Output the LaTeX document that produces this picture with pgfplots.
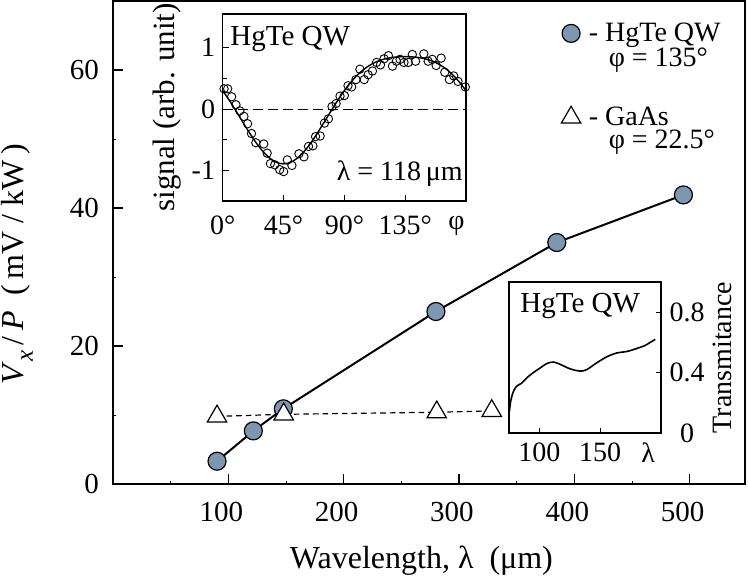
\documentclass[border=0pt]{standalone}
\usepackage{fontspec}
\setmainfont{Liberation Serif}
\usepackage{pgfplots}
\pgfplotsset{compat=1.18}
\definecolor{hgfill}{RGB}{125,150,178}
\newcommand{\fsz}[1]{\fontsize{#1}{#1}\selectfont}
\begin{document}
\begin{tikzpicture}
\path[use as bounding box] (-56.5bp,-46bp) rectangle (317.5bp,242bp);
% ---------------- main axis ----------------
\begin{axis}[
  at={(0,0)}, anchor=south west,
  scale only axis, width=316bp, height=241.5bp,
  xmin=0, xmax=548, ymin=0, ymax=70,
  axis line style={line width=1bp},
  tick align=inside, xtick pos=bottom, ytick pos=left,
  xtick={100,200,300,400,500}, xticklabels={100,200,300,400,500},
  ytick={0,20,40,60}, yticklabels={0,20,40,60},
  minor xtick={50,150,250,350,450}, minor ytick={10,30,50},
  major tick length=5bp, minor tick length=1.5bp,
  tick style={black, line width=0.8bp},
  minor tick style={line width=0.4bp},
  /pgf/number format/assume math mode=true,
  tick label style={font=\fsz{14.5bp}},
  xticklabel style={yshift=-5.5bp, xshift=-3.5bp},
  yticklabel style={xshift=-3.5bp},
  label style={font=\fsz{16bp}},
  xlabel={Wavelength, λ\ \ (μm)},
  xlabel style={at={(axis description cs:0.488,-0.174)}, anchor=base},
  ylabel={\textit{V}\raisebox{-0.3em}{\fsz{12.5bp}\textit{x}}\,/\,\textit{P}\ \ (\,mV / kW\,)},
  ylabel style={at={(axis description cs:-0.152,0.455)}, anchor=center},
  legend style={at={(axis description cs:0.709,0.9586)}, anchor=north west,
    draw=none, fill=none, inner sep=0pt, outer sep=0pt,
    /tikz/row sep=0pt, /tikz/column sep=4bp,
    font=\fsz{14bp},
    nodes={inner sep=0pt, anchor=base west, text depth=, text height=},
    cells={anchor=base west}},
  legend image code/.code={\draw[#1] plot coordinates {(5bp,3.8bp)};},
]
\addplot[forget plot, black, line width=1bp, mark=*, mark size=4.5bp,
  mark options={solid, fill=hgfill, draw=black, line width=0.6bp}]
  coordinates {(90.2,3.3) (121.7,7.7) (147.7,10.9) (280,25.0) (384.8,35.0) (494.6,41.9)};
\addplot[forget plot, black, line width=0.6bp, dash pattern=on 2.8bp off 2bp,
  mark=triangle*, mark size=5.6bp,
  mark options={solid, fill=white, draw=black, line width=0.6bp}]
  coordinates {(90.2,9.8) (148,10.1) (280.7,10.4) (328.4,10.6)};
\addlegendimage{only marks, mark=*, mark size=4.5bp, mark options={fill=hgfill, draw=black, line width=0.6bp}}
\addlegendentry{\rule[-3bp]{0pt}{13bp}- HgTe QW}
\addlegendimage{empty legend}
\addlegendentry{\rule[-17.5bp]{0pt}{27bp}\hspace{10bp}φ = 135°}
\addlegendimage{only marks, mark=triangle*, mark size=5.6bp, mark options={fill=white, draw=black, line width=0.6bp}}
\addlegendentry{\rule[-1.5bp]{0pt}{13.5bp}- GaAs}
\addlegendimage{empty legend}
\addlegendentry{\rule[-4bp]{0pt}{14bp}\hspace{10bp}φ = 22.5°}
\end{axis}
% ---------------- inset 1: angular dependence ----------------
\begin{axis}[
  at={(54.85bp,141.5bp)}, anchor=south west,
  scale only axis, width=121.65bp, height=93.5bp,
  xmin=0, xmax=180, ymin=-1.5, ymax=1.55,
  axis line style={line width=0.6bp},
  tick align=inside, xtick pos=bottom, ytick pos=left,
  xtick={0,45,90,135}, xticklabels={0°,45°,90°,135°},
  extra x ticks={173}, extra x tick labels={φ},
  extra x tick style={major tick length=0pt},
  ytick={-1,0,1}, yticklabels={-1,0,1},
  minor ytick={-0.5,0.5},
  major tick length=3bp, minor tick length=2bp,
  tick style={black, line width=0.5bp},
  tick label style={font=\fsz{14bp}},
  xticklabel style={yshift=-4bp},
  yticklabel style={xshift=-0.3bp},
  ylabel={signal (arb. unit)},
  ylabel style={font=\fsz{15.5bp}, at={(axis description cs:-0.228,0.5)}, anchor=center},
]
\addplot[black, line width=0.5bp, dash pattern=on 5bp off 2.5bp] coordinates {(0,0) (180,0)};
\addplot[black, line width=0.7bp, smooth] coordinates {
(0,0.30) (5,0.1385) (10,-0.0367) (15,-0.2175) (20,-0.3946) (25,-0.5581) (30,-0.6978)
(35,-0.8048) (40,-0.8721) (45,-0.895) (50,-0.8721) (55,-0.8048) (60,-0.6978) (65,-0.5581)
(70,-0.3946) (75,-0.2175) (80,-0.0367) (85,0.1385) (90,0.30) (95,0.4423) (100,0.5619)
(105,0.6575) (110,0.7302) (115,0.7825) (120,0.8178) (125,0.8396) (130,0.8513) (135,0.855)
(140,0.8513) (145,0.8396) (150,0.8178) (155,0.7825) (160,0.7302) (165,0.6575) (170,0.5619)
(175,0.4423) (180,0.30)};
\addplot[only marks, mark=o, mark size=2.1bp, mark options={line width=0.45bp, draw=black}] coordinates {
(1,0.33) (3.7,0.33) (6.6,0.20) (9.8,0.07) (12.7,-0.03) (15.7,-0.12) (18.4,-0.24) (21.3,-0.40)
(24.5,-0.55) (30.4,-0.57) (32.9,-0.72) (35.3,-0.89) (38.5,-0.91) (42.2,-0.99) (45.1,-1.02)
(47.8,-0.83) (51.2,-0.92) (56.4,-0.73) (60.1,-0.78) (63.5,-0.61) (66.7,-0.60) (68.7,-0.45)
(72.1,-0.44) (75.3,-0.23) (78.2,-0.16) (80.9,0.04) (83.9,0.09) (86.8,0.21) (90,0.22)
(92.7,0.38) (95.4,0.36) (98.6,0.48) (101.5,0.65) (104.7,0.48) (107.6,0.56) (110.8,0.62)
(113.8,0.76) (116.7,0.72) (119.4,0.82) (122.6,0.87) (125.6,0.70) (128.5,0.78) (131.2,0.81)
(134.1,0.76) (137.3,0.76) (140.3,0.89) (142.7,0.78) (148.8,0.90) (152,0.78) (155,0.81)
(157.9,0.71) (161.6,0.83) (164.3,0.60) (167.7,0.48) (170.9,0.54) (174.1,0.45) (179.5,0.36)};
\node[anchor=north west, inner sep=0pt, font=\fsz{14.5bp}] at (axis description cs:0.030,0.936) {HgTe QW};
\node[anchor=base east, inner sep=0pt, font=\fsz{14bp}] at (axis description cs:0.988,0.112) {λ = 118\,μm};
\end{axis}
% ---------------- inset 2: transmittance ----------------
\begin{axis}[
  at={(198bp,25.5bp)}, anchor=south west,
  scale only axis, width=76bp, height=75.5bp,
  xmin=75, xmax=200, ymin=0, ymax=1.0,
  axis line style={line width=0.6bp},
  tick align=inside, xtick pos=bottom, ytick pos=right, yticklabel pos=right,
  xtick={100,150}, xticklabels={100,150},
  extra x ticks={189.5}, extra x tick labels={λ},
  extra x tick style={major tick length=0pt},
  ytick={0,0.4,0.8}, yticklabels={0,0.4,0.8},
  major tick length=2.5bp,
  tick style={black, line width=0.5bp},
  tick label style={font=\fsz{14bp}},
  xticklabel style={yshift=-1.5bp},
  yticklabel style={anchor=center, xshift=13bp},
  ylabel={Transmitance},
  ylabel style={font=\fsz{14bp}, at={(axis description cs:1.405,0.5)}, anchor=center, rotate=0},
]
\addplot[black, line width=0.8bp, smooth] coordinates {
(75,0.12) (76.4,0.21) (78.6,0.275) (81.3,0.31) (85.4,0.33) (89.6,0.365) (95,0.40)
(100.5,0.43) (106,0.46) (111.5,0.47) (117,0.455) (125.2,0.425) (133.5,0.41) (139,0.42)
(147.2,0.465) (155.5,0.505) (163.7,0.53) (172,0.54) (180.2,0.56) (187,0.58) (191.1,0.60)
(195.3,0.62)};
\node[anchor=north west, inner sep=0pt, font=\fsz{14.5bp}] at (axis description cs:0.072,0.927) {HgTe QW};
\end{axis}
\end{tikzpicture}
\end{document}
